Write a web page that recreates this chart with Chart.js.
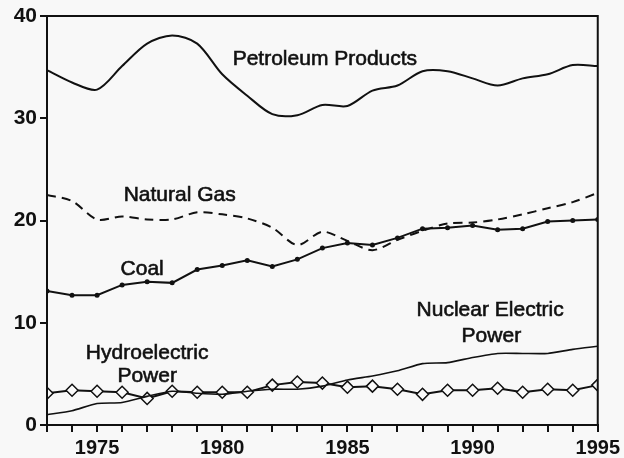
<!DOCTYPE html>
<html>
<head>
<meta charset="utf-8">
<script src="https://cdn.jsdelivr.net/npm/chart.js@4"></script>
<style>
  html, body { margin: 0; padding: 0; background: #f8f8f8; }
  #wrap { width: 624px; height: 458px; }
</style>
</head>
<body>
<div id="wrap"><canvas id="c" width="624" height="458"></canvas></div>
<script>
// ── 데이터 ─────────────────────────────────────────────
const years = [1973,1974,1975,1976,1977,1978,1979,1980,1981,1982,1983,1984,1985,1986,1987,1988,1989,1990,1991,1992,1993,1994,1995];
const petroleum  = [34.7,33.5,32.8,35.1,37.3,38.1,37.3,34.3,32.2,30.4,30.3,31.3,31.2,32.7,33.2,34.6,34.6,33.9,33.2,33.9,34.3,35.2,35.1];
const naturalGas = [22.5,21.9,20.1,20.4,20.1,20.1,20.8,20.6,20.2,19.3,17.6,18.9,18.0,17.1,18.1,19.0,19.7,19.8,20.1,20.6,21.2,21.8,22.7];
const coal       = [13.1,12.7,12.7,13.7,14.0,13.9,15.2,15.6,16.1,15.5,16.2,17.3,17.8,17.6,18.3,19.2,19.3,19.5,19.1,19.2,19.9,20.0,20.1];
const hydro      = [3.1,3.4,3.3,3.2,2.6,3.3,3.2,3.2,3.2,3.9,4.2,4.1,3.7,3.8,3.5,3.0,3.4,3.4,3.6,3.2,3.5,3.4,3.9];
const nuclear    = [1.0,1.4,2.1,2.2,2.8,3.3,3.1,3.0,3.3,3.5,3.5,3.8,4.4,4.8,5.3,6.0,6.1,6.6,7.0,7.0,7.0,7.4,7.7];
const yTicks = [0, 10, 20, 30, 40];

// 라벨 위치 (데이터 좌표)
const seriesLabels = [
  { text: "Petroleum Products", x: 1984.1, y: 35.8 },
  { text: "Natural Gas",        x: 1978.3, y: 22.45 },
  { text: "Coal",               x: 1976.8, y: 15.2 },
  { text: "Hydroelectric",      x: 1977.0, y: 7.06 },
  { text: "Power",              x: 1977.0, y: 4.8 },
  { text: "Nuclear Electric",   x: 1990.7, y: 11.2 },
  { text: "Power",              x: 1990.75, y: 8.7 },
];

const FONT = "'Liberation Sans', Arial, sans-serif";
const pts = arr => years.map((x, i) => ({ x, y: arr[i] }));

// ── 테두리 + 라벨 플러그인 ─────────────────────────────
const framePlugin = {
  id: "frame",
  afterDraw(chart) {
    const { ctx, chartArea: a, scales } = chart;
    ctx.save();
    ctx.strokeStyle = "#111";
    ctx.lineWidth = 2;
    ctx.strokeRect(a.left, a.top, a.right - a.left, a.bottom - a.top);
    ctx.fillStyle = "#111";
    ctx.font = "21px " + FONT;
    ctx.textAlign = "center";
    ctx.textBaseline = "middle";
    ctx.lineWidth = 0.6;
    seriesLabels.forEach(l => {
      const px = scales.x.getPixelForValue(l.x), py = scales.y.getPixelForValue(l.y);
      ctx.fillText(l.text, px, py);
      ctx.strokeText(l.text, px, py);
    });
    ctx.restore();
  },
};

new Chart(document.getElementById("c"), {
  type: "line",
  data: {
    datasets: [
      { data: pts(petroleum),  borderColor: "#111", borderWidth: 2, pointRadius: 0, tension: 0.3 },
      { data: pts(naturalGas), borderColor: "#111", borderWidth: 2, pointRadius: 0, tension: 0.3, borderDash: [9, 6] },
      { data: pts(coal),       borderColor: "#111", borderWidth: 2, pointRadius: 2.5, pointBackgroundColor: "#111", pointBorderWidth: 0, tension: 0 },
      { data: pts(nuclear),    borderColor: "#111", borderWidth: 1.6, pointRadius: 0, tension: 0.2 },
      { data: pts(hydro),      borderColor: "#111", borderWidth: 2, pointStyle: "rectRot", pointRadius: 6,
        pointBackgroundColor: "#fafafa", pointBorderColor: "#111", pointBorderWidth: 1.5, tension: 0 },
    ],
  },
  options: {
    responsive: false,
    animation: false,
    devicePixelRatio: 1,
    layout: { padding: { top: 16, right: 25, left: 0, bottom: 0 } },
    plugins: { legend: { display: false }, tooltip: { enabled: false } },
    scales: {
      x: {
        type: "linear", min: 1973, max: 1995,
        afterFit: s => { s.height = 33; },
        grid: { drawOnChartArea: false, tickLength: 7, tickColor: "#111", lineWidth: 2 },
        border: { color: "#111", width: 2 },
        ticks: {
          stepSize: 1, autoSkip: false, maxRotation: 0, padding: 4, color: "#111",
          font: { family: FONT, size: 20, weight: "bold" },
          callback: v => (v % 5 === 0 ? String(v) : ""),
        },
      },
      y: {
        min: 0, max: 40,
        afterFit: s => { s.width = 47; },
        afterBuildTicks: s => { s.ticks = yTicks.map(value => ({ value })); },
        grid: { drawOnChartArea: false, tickLength: 7, tickColor: "#111", lineWidth: 2 },
        border: { color: "#111", width: 2 },
        ticks: { padding: 3, color: "#111", font: { family: FONT, size: 21, weight: "bold" } },
      },
    },
  },
  plugins: [framePlugin],
});
</script>
</body>
</html>
